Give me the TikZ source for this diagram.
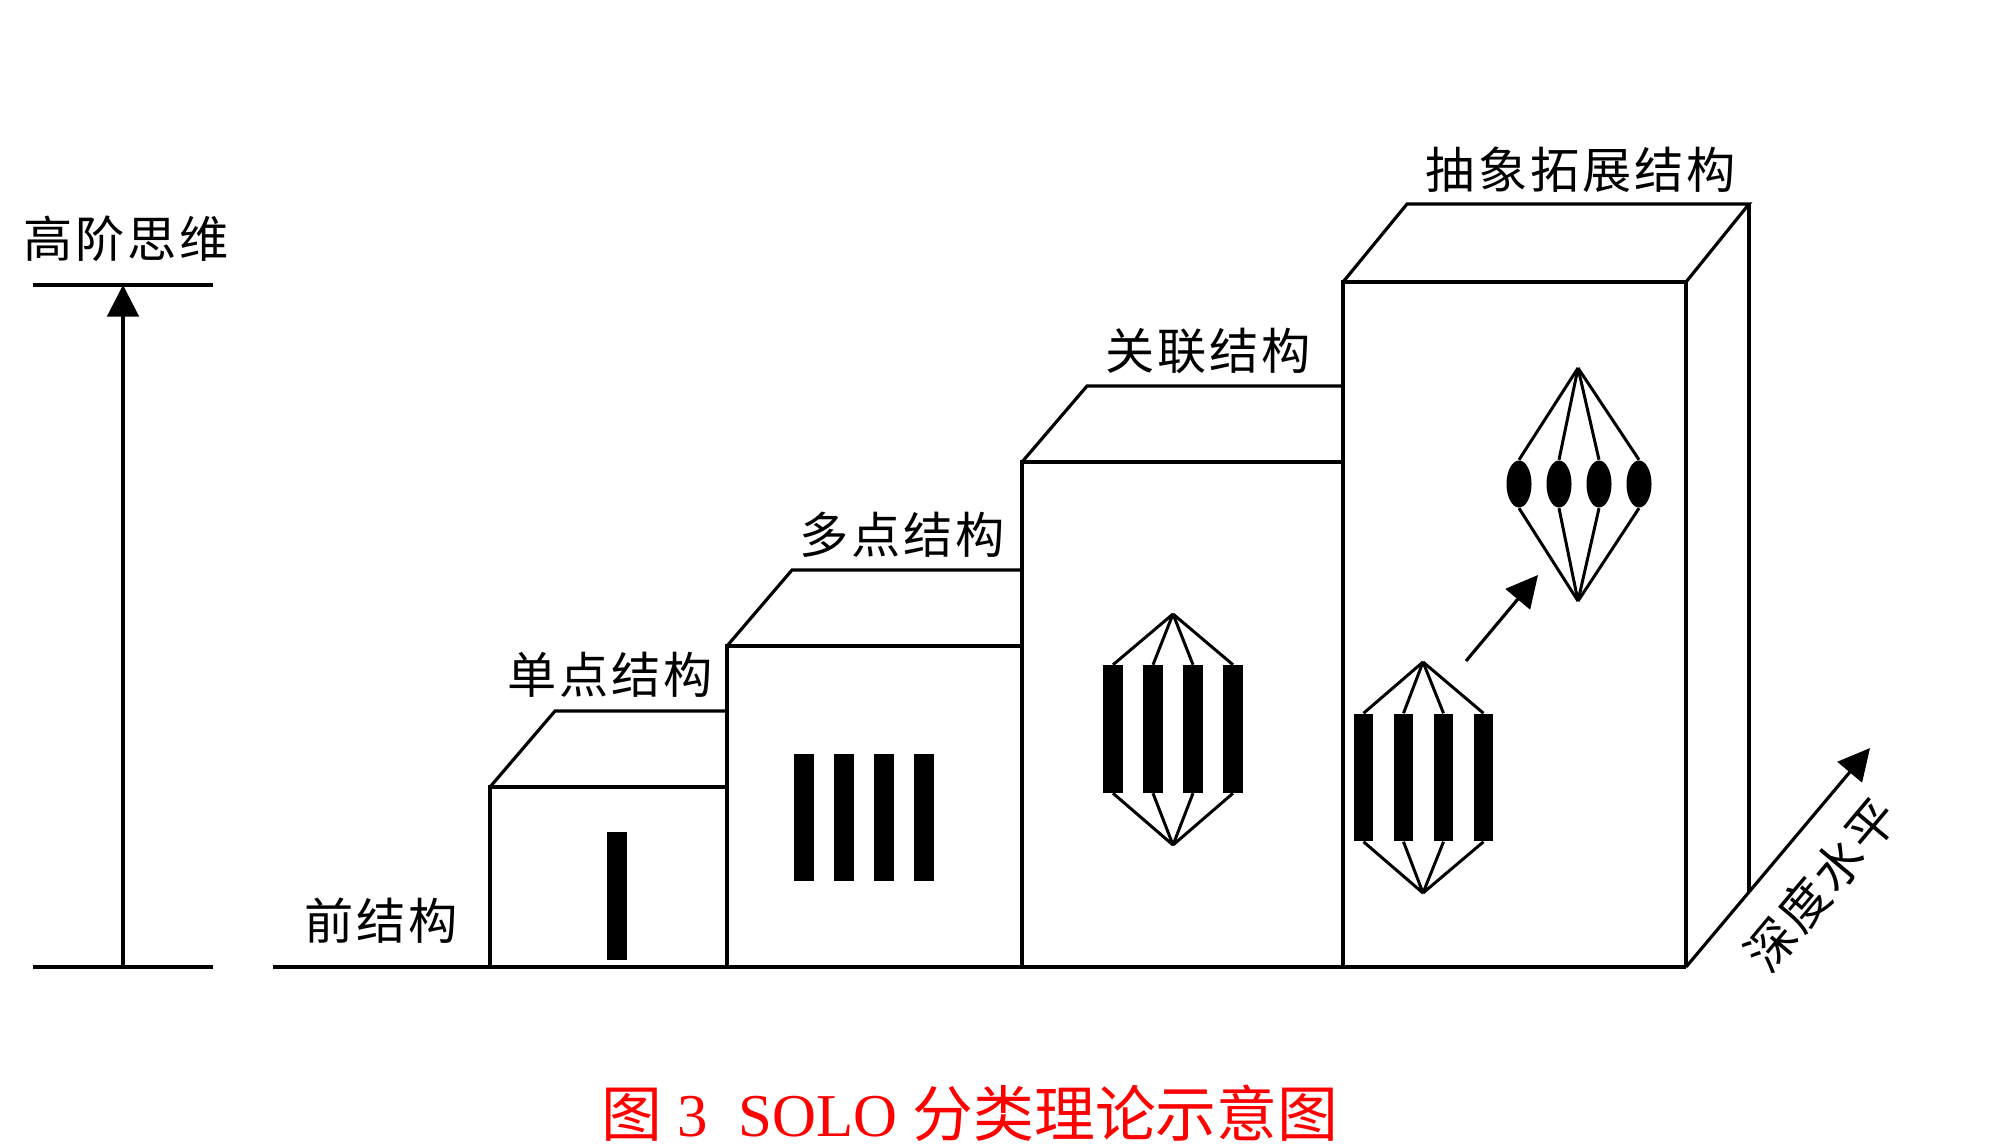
\documentclass[tikz,border=0pt]{standalone}
\usepackage{fontspec}
\setmainfont{Liberation Serif}
\newfontfamily\cjk[LetterSpace=6]{Noto Sans CJK SC}
\newfontfamily\capcjk{Noto Sans CJK SC}
\usetikzlibrary{arrows.meta,shapes.geometric}
\begin{document}
\begin{tikzpicture}[x=0.01cm,y=-0.01cm,
  edge/.style={line width=0.9pt, line join=miter},
  link/.style={line width=0.85pt},
  barbox/.style={rectangle, fill=black, inner sep=0pt, minimum width=0.2cm, minimum height=1.27cm},
  dot/.style={ellipse, fill=black, inner sep=0pt, minimum width=0.25cm, minimum height=0.47cm},
  lbl/.style={font=\cjk\fontsize{14pt}{14pt}\selectfont, inner sep=0pt},
  arr/.style={line width=0.9pt, -{Triangle[length=9pt,width=9pt]}}]
\useasboundingbox (0,0) rectangle (2000,1145);

% ---- left axis ----
\coordinate (axbot) at (123,967);
\coordinate (axtop) at (123,285);
\draw[edge] (33,285) -- (213,285);
\draw[edge] (33,967) -- (213,967);
\draw[arr] (axbot) -- (axtop);
\node[lbl] (high) at (126,239) {高阶思维};

% ---- baseline ----
\draw[edge] (273,967) -- (1686,967);
\node[lbl] (pre) at (381,921) {前结构};

% ---- box 1 ----
\draw[edge] (490,967) -- (490,787) -- (727,787);
\draw[edge] (490,787) -- (555,711) -- (727,711);
\node[lbl] (uni) at (610,675) {单点结构};
\node[barbox] (u1) at (617,896) {};

% ---- box 2 ----
\draw[edge] (727,967) -- (727,646) -- (1022,646);
\draw[edge] (727,646) -- (792,570) -- (1022,570);
\node[lbl] (multi) at (902,535) {多点结构};
\foreach \i/\x in {1/803.5,2/843.5,3/883.5,4/923.5}
  \node[barbox] (m\i) at (\x,817.5) {};

% ---- box 3 ----
\draw[edge] (1022,967) -- (1022,462) -- (1343,462);
\draw[edge] (1022,462) -- (1087,386) -- (1343,386);
\node[lbl] (rel) at (1208,351) {关联结构};
\coordinate (rtop) at (1173,614);
\coordinate (rbot) at (1173,845);
\foreach \i/\x in {1/1113,2/1153,3/1193,4/1233}{
  \node[barbox] (r\i) at (\x,729) {};
  \draw[link] (rtop) -- (r\i.north);
  \draw[link] (rbot) -- (r\i.south);
}

% ---- box 4 ----
\draw[edge] (1343,967) -- (1343,282) -- (1686,282) -- (1686,967);
\draw[edge] (1343,282) -- (1407,204) -- (1749,204) -- (1686,282);
\draw[edge] (1749,204) -- (1749,892);
\node[lbl] (ext) at (1581,170) {抽象拓展结构};
\coordinate (ltop) at (1423,662);
\coordinate (lbot) at (1423,893);
\foreach \i/\x in {1/1363.5,2/1403.5,3/1443.5,4/1483.5}{
  \node[barbox, minimum width=0.19cm] (l\i) at (\x,777.5) {};
  \draw[link] (ltop) -- (l\i.north);
  \draw[link] (lbot) -- (l\i.south);
}
\coordinate (etop) at (1578,368);
\coordinate (ebot) at (1578,601);
\foreach \i/\x in {1/1519,2/1559,3/1599,4/1639}{
  \node[dot] (e\i) at (\x,484) {};
  \draw[link] (etop) -- (e\i.north);
  \draw[link] (ebot) -- (e\i.south);
}
\coordinate (sa) at (1466,661);
\coordinate (sb) at (1538,575);
\draw[arr] (sa) -- (sb);

% ---- depth axis ----
\coordinate (dstart) at (1686,967);
\coordinate (dend) at (1870,748);
\draw[arr] (dstart) -- (dend);
\node[lbl, rotate=50] (depth) at (1821,885) {深度水平};

% ---- caption ----
\node[inner sep=0pt, text=red, font=\fontsize{17.3pt}{17.3pt}\selectfont] (cap) at (970,1113)
  {{\capcjk 图} 3\ \ SOLO {\capcjk 分类理论示意图}};
\end{tikzpicture}
\end{document}
